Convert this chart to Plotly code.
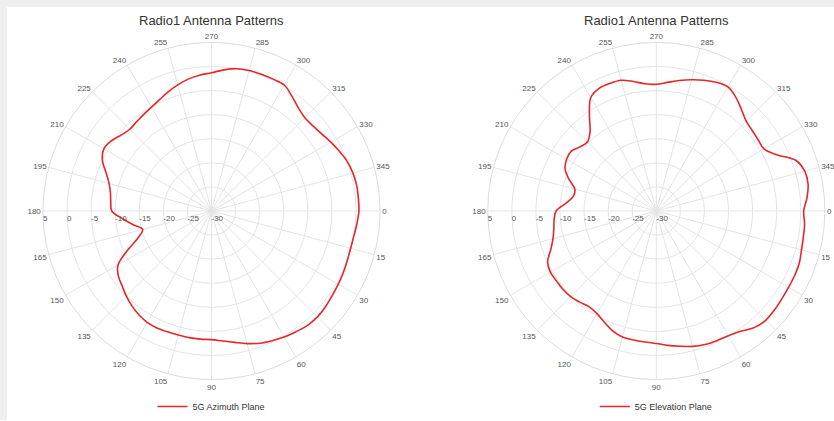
import plotly.graph_objects as go

angles = list(range(0, 365, 5))

azimuth_db = [0.6, 0.3, 0.0, -0.1, 0.0, 0.2, 0.4, 0.6, 0.9, 1.1,
              1.0, 0.6, 0.2, -0.3, -0.8, -1.5, -2.3, -2.9, -3.3, -3.3,
              -3.3, -3.35, -3.3, -3.2, -3.3, -3.7, -4.3, -5.0, -5.8, -6.4,
              -7.6, -10.8, -13.8, -15.2, -13.5, -11.5, -9.3, -9.0, -8.7, -8.0,
              -6.7, -5.0, -4.2, -4.6, -5.5, -6.0, -5.8, -5.5, -5.1, -4.5,
              -3.7, -2.9, -2.2, -1.7, -1.3, -0.6, 0.0, 0.2, 0.2, 0.2,
              0.2, -0.9, -2.0, -2.6, -2.5, -2.1, -1.4, -0.7, 0.0, 0.4,
              0.6, 0.6, 0.6]

elevation_db = [0.6, 0.9, 1.0, 1.2, 1.6, 1.7, 1.7, 1.8, 2.0, 2.1,
                1.6, 0.5, -0.1, -0.3, -0.5, -0.9, -1.5, -2.0, -2.5, -2.7,
                -2.8, -2.9, -3.5, -4.5, -5.4, -5.7, -5.3, -4.85, -4.7, -4.7,
                -4.6, -5.1, -6.7, -7.8, -8.4, -8.7, -9.2, -11.2, -12.5, -12.5,
                -10.7, -9.1, -8.5, -8.4, -9.3, -9.75, -8.6, -5.8, -2.8, -1.9,
                -1.8, -1.9, -2.7, -3.5, -3.7, -3.2, -2.5, -1.8, -1.1, -0.5,
                -0.25, -1.2, -2.5, -3.6, -4.0, -4.2, -4.2, -2.4, 0.8, 1.9,
                2.0, 1.4, 0.6]

angular_ticks = list(range(0, 360, 15))
radial_ticks = [-30, -25, -20, -15, -10, -5, 0, 5]
titles = ["Radio1 Antenna Patterns", "Radio1 Antenna Patterns"]
series_names = ["5G Azimuth Plane", "5G Elevation Plane"]

W, H = 834, 421
FONT = "Liberation Sans, Arial, sans-serif"
RED = "#e5262b"
GRID = "#e4e4e4"

fig = go.Figure()
fig.add_trace(go.Scatterpolar(r=azimuth_db, theta=angles, mode="lines",
                              line=dict(color=RED, width=1.6, shape="spline"),
                              name=series_names[0], subplot="polar", legend="legend",
                              showlegend=True))
fig.add_trace(go.Scatterpolar(r=elevation_db, theta=angles, mode="lines",
                              line=dict(color=RED, width=1.6, shape="spline"),
                              name=series_names[1], subplot="polar2", legend="legend2",
                              showlegend=True))

def polar_cfg(cx):
    R = 169
    cy = 209.5
    return dict(
        domain=dict(x=[(cx - R) / W, (cx + R) / W], y=[(cy - R) / H, (cy + R) / H]),
        bgcolor="white",
        angularaxis=dict(direction="clockwise", rotation=0, tickmode="array",
                         tickvals=angular_ticks, ticktext=[str(a) for a in angular_ticks],
                         gridcolor=GRID, gridwidth=1, linecolor="#dcdcdc", linewidth=1,
                         ticks="", tickfont=dict(size=8, color="#555", family=FONT)),
        radialaxis=dict(range=[-30, 5], tickmode="array", tickvals=radial_ticks,
                        ticktext=[str(v) for v in radial_ticks], angle=180, tickangle=180,
                        side="counterclockwise",
                        gridcolor=GRID, gridwidth=1, showline=False, ticks="",
                        tickfont=dict(size=8, color="#555", family=FONT)),
    )

fig.update_layout(
    width=W, height=H,
    margin=dict(l=0, r=0, t=0, b=0),
    paper_bgcolor="white",
    showlegend=True,
    font=dict(family=FONT),
    polar=polar_cfg(211.5),
    polar2=polar_cfg(656.3),
    legend=dict(x=211.5 / W, y=(H - 407) / H, xanchor="center", yanchor="middle",
                font=dict(size=9, color="#333", family=FONT), bgcolor="rgba(0,0,0,0)"),
    legend2=dict(x=656.3 / W, y=(H - 407) / H, xanchor="center", yanchor="middle",
                 font=dict(size=9, color="#333", family=FONT), bgcolor="rgba(0,0,0,0)"),
    shapes=[
        dict(type="rect", xref="paper", yref="paper", x0=0, x1=7 / W, y0=0, y1=1,
             fillcolor="#efefef", line=dict(width=0), layer="below"),
        dict(type="rect", xref="paper", yref="paper", x0=0, x1=1, y0=1 - 7 / H, y1=1,
             fillcolor="#efefef", line=dict(width=0), layer="below"),
    ],
    annotations=[
        dict(text=titles[0], x=211.5 / W, y=(H - 21) / H, xref="paper", yref="paper",
             showarrow=False, xanchor="center", yanchor="middle",
             font=dict(size=13, color="#333", family=FONT)),
        dict(text=titles[1], x=656.3 / W, y=(H - 21) / H, xref="paper", yref="paper",
             showarrow=False, xanchor="center", yanchor="middle",
             font=dict(size=13, color="#333", family=FONT)),
    ],
)

fig.write_html("out.html")
